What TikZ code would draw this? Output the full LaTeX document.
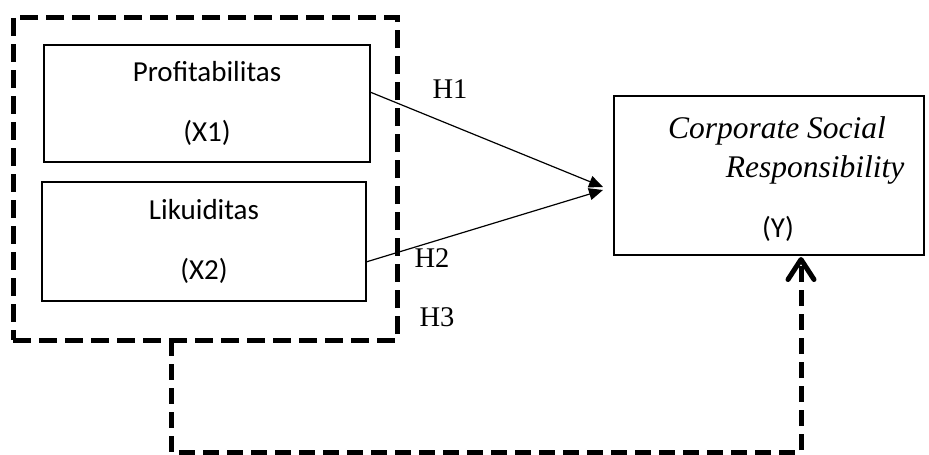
\documentclass[tikz,border=0pt]{standalone}
\usepackage{fontspec}
\setmainfont{Liberation Serif}
\newfontfamily\calib{Carlito}
\usetikzlibrary{arrows.meta}
\begin{document}
\begin{tikzpicture}[x=1pt,y=-1pt,
  varbox/.style={draw,line width=1.6pt,rectangle,inner sep=0pt,align=center,
    font=\calib\fontsize{29}{60}\selectfont},
  groupbox/.style={draw,line width=5pt,dash pattern=on 18pt off 8pt,rectangle,inner sep=0pt},
  hyp/.style={font=\fontsize{28.5}{30}\selectfont,inner sep=0pt},
  csr/.style={font=\itshape\fontsize{31.5}{34}\selectfont,inner sep=0pt},
  yfont/.style={font=\calib\fontsize{29}{32}\selectfont,inner sep=0pt},
  link/.style={line width=1.2pt,-{Triangle[length=14pt,width=12pt]}},
  grouplink/.style={line width=5pt,dash pattern=on 16pt off 8pt,
    -{Straight Barb[length=20pt,width=26pt,line cap=round,line join=round]}}
]
\useasboundingbox (0,0) rectangle (929,455);
% outer dashed group
\node[groupbox,minimum width=384pt,minimum height=323pt] (grp) at (205,178.5) {};
% variable boxes
\node[varbox,minimum width=326pt,minimum height=117pt] (x1) at (207,103.5) {Profitabilitas\\(X1)};
\node[varbox,minimum width=324pt,minimum height=119pt] (x2) at (204,241.5) {Likuiditas\\(X2)};
\node[draw,line width=1.6pt,rectangle,minimum width=310pt,minimum height=159pt] (y) at (769,175.5) {};
\node[csr] (ya) at (777,131) {Corporate Social};
\node[csr] (yb) at (815,170) {Responsibility};
\node[yfont] (yc) at (778,229) {(Y)};
% hypotheses labels
\node[hyp] (h1) at (450,89) {H1};
\node[hyp] (h2) at (432,258) {H2};
\node[hyp] (h3) at (437,317) {H3};
% connector points
\coordinate (s1) at (370,92);
\coordinate (s2) at (366,262);
\coordinate (t1) at (603,187);
\coordinate (t2) at (603,190);
\coordinate (gs) at (171,340);
\coordinate (gb1) at (171,452);
\coordinate (gb2) at (801,452);
\coordinate (gt) at (801,257);
\draw[link] (s1) -- (t1);
\draw[link] (s2) -- (t2);
\draw[grouplink] (gs) -- (gb1) -- (gb2) -- (gt);
\end{tikzpicture}
\end{document}
